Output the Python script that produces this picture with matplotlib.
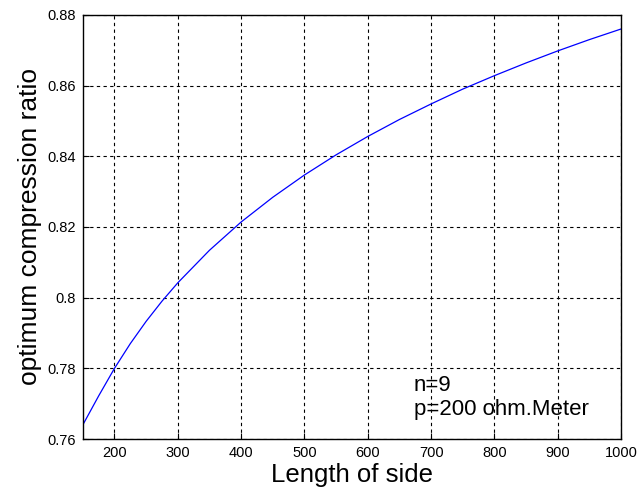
import matplotlib
matplotlib.use('Agg')
import matplotlib.pyplot as plt

# data
side = [150, 175, 200, 225, 250, 275, 300, 350, 400, 450, 500, 550, 600,
        650, 700, 750, 800, 850, 900, 950, 1000]
ratio = [0.764, 0.7722, 0.780, 0.7870, 0.7933, 0.7990, 0.8042, 0.8134, 0.8214, 0.8284,
         0.8347, 0.8404, 0.8456, 0.8504, 0.8548, 0.8590, 0.8628, 0.8664, 0.8698, 0.8730,
         0.8760]
xticks = [200, 300, 400, 500, 600, 700, 800, 900, 1000]
yticks = [0.76, 0.78, 0.8, 0.82, 0.84, 0.86, 0.88]
ytick_labels = ['0.76', '0.78', '0.8', '0.82', '0.84', '0.86', '0.88']

plt.rcParams['font.family'] = ['Liberation Sans', 'DejaVu Sans']

fig = plt.figure(figsize=(6.37, 4.95), dpi=100)
ax = fig.add_axes([0.130, 0.113, 0.845, 0.857])
ax.plot(side, ratio, color='blue', linewidth=0.9)
ax.set_xlim(150, 1000)
ax.set_ylim(0.76, 0.88)
ax.set_xticks(xticks)
ax.set_yticks(yticks)
ax.set_yticklabels(ytick_labels)
ax.tick_params(direction='in', labelsize=10.5, length=4, pad=5)
ax.grid(True, color='black', linestyle=(0, (3, 3)), linewidth=0.8)
for s in ax.spines.values():
    s.set_linewidth(1.0)
ax.set_xlabel('Length of side', fontsize=18.5, labelpad=2)
ax.set_ylabel('optimum compression ratio', fontsize=19, labelpad=4)
ax.text(673, 0.7655, 'n=9\np=200 ohm.Meter', fontsize=16, linespacing=1.15, va='bottom')

fig.savefig('out.png', dpi=100)
